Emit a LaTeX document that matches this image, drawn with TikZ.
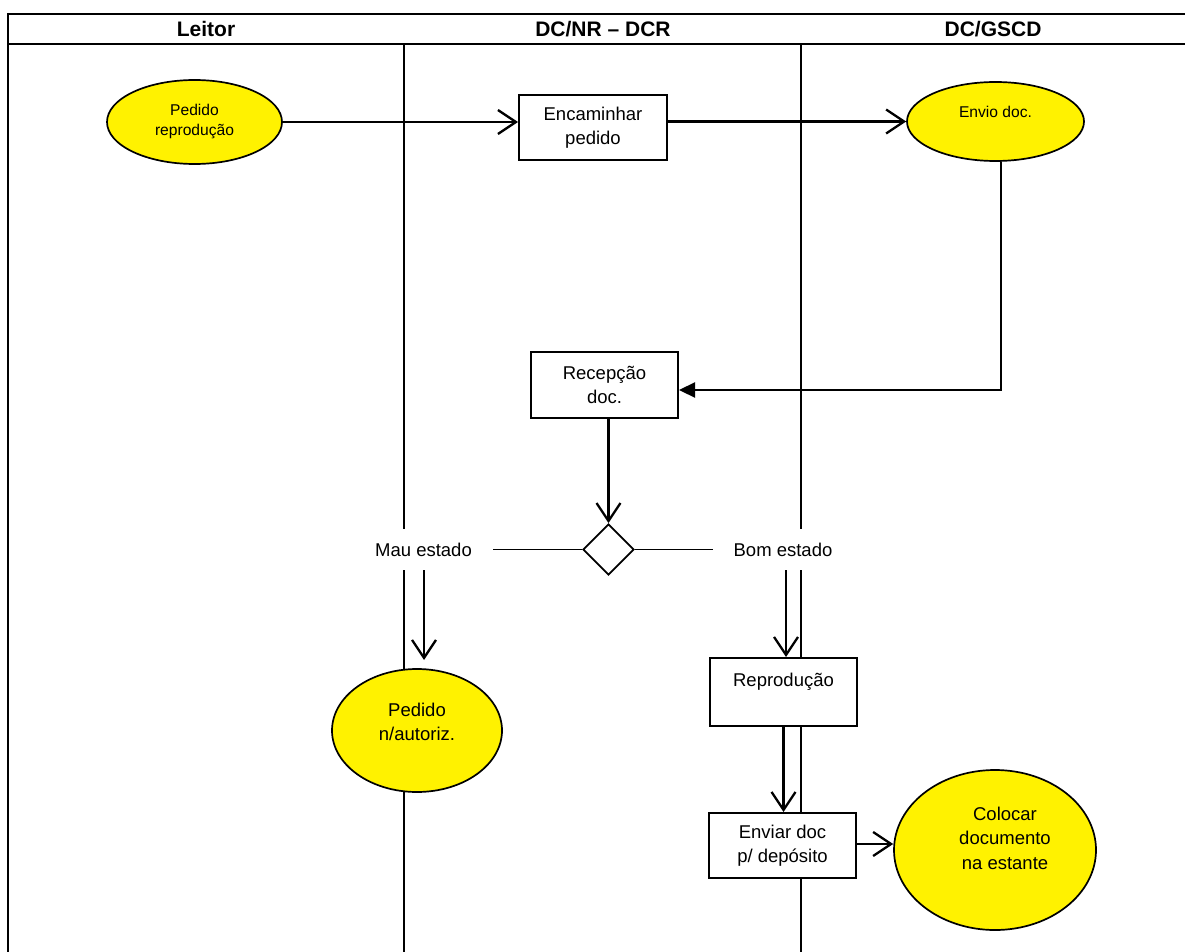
\documentclass[tikz,border=0pt]{standalone}
\usepackage{fontspec}
\setmainfont{Liberation Sans}
\usetikzlibrary{arrows.meta,shapes.geometric}
\begin{document}
\begin{tikzpicture}[x=1pt,y=-1pt,
  lane/.style={line width=2.3pt},
  conn/.style={line width=2.3pt,-{Straight Barb[length=18pt,width=24pt,line width=2.3pt]}},
  fillconn/.style={line width=2.3pt,-{Triangle[length=16pt,width=15pt]}},
  branch/.style={line width=1.8pt},
  hdr/.style={font=\fontsize{21}{25}\selectfont\bfseries},
  txt/.style={font=\fontsize{18.5}{24.5}\selectfont,align=center,inner sep=0pt},
  proc/.style={draw,line width=2pt,fill=white,rectangle,inner sep=0pt,
    font=\fontsize{18.5}{24.5}\selectfont,align=center},
  term/.style={draw,line width=1.7pt,fill=yellow,ellipse,inner sep=0pt,
    font=\fontsize{18.5}{24.5}\selectfont,align=center},
  smallterm/.style={term,font=\fontsize{15.6}{20}\selectfont},
  cond/.style={font=\fontsize{18.5}{24.5}\selectfont,fill=white,inner ysep=0pt,minimum height=41pt}
]
\useasboundingbox (0,0) rectangle (1185,952);

% swimlane frame and headers
\draw[lane] (8,14) -- (1185,14);
\draw[lane] (8,44) -- (1185,44);
\draw[lane] (8,13) -- (8,952);
\draw[lane] (404,44) -- (404,952);
\draw[lane] (801,44) -- (801,952);
\node[hdr] (hleitor) at (206,29) {Leitor};
\node[hdr] (hdcnr) at (603,29) {DC/NR – DCR};
\node[hdr] (hgscd) at (993,29) {DC/GSCD};

% activities
\node[smallterm,minimum width=175pt,minimum height=84pt] (pedrep) at (194.5,122) {Pedido\\reprodução};
\node[proc,minimum width=148pt,minimum height=65pt] (encam) at (593,127.5) {Encaminhar\\pedido};
\node[smallterm,minimum width=177pt,minimum height=79pt] (envio) at (995.5,121.5) {Envio doc.\\\mbox{}};
\node[proc,minimum width=147pt,minimum height=66pt] (recep) at (604.5,385) {Recepção\\doc.};
\node[draw,diamond,line width=1.8pt,fill=white,inner sep=0pt,minimum width=51pt,minimum height=51pt] (dec) at (608.5,549.5) {};
\node[cond,inner xsep=21pt] (mau) at (423.5,549.5) {Mau estado};
\node[cond,inner xsep=20pt] (bom) at (783,549.5) {Bom estado};
\node[term,minimum width=170pt,minimum height=123pt] (nauth) at (417,730.5) {};
\node[txt] (nauthtxt) at (417,722) {Pedido\\n/autoriz.};
\node[proc,minimum width=147pt,minimum height=68pt] (repro) at (783.5,692) {Reprodução\\\mbox{}};
\node[proc,minimum width=147pt,minimum height=65pt] (enviar) at (782.5,845.5) {Enviar doc\\p/ depósito};
\node[term,minimum width=202pt,minimum height=160pt] (coloc) at (995,850) {};
\node[txt] (coloctxt) at (1005,838) {Colocar\\documento\\na estante};
\coordinate (mauend) at (424,660);

% flow
\draw[conn] (pedrep.east) -- (pedrep.east -| encam.west);
\draw[conn] (encam.east |- envio.west) -- (envio.west);
\draw[fillconn] ([xshift=5.5pt]envio.south) |- ([yshift=-5pt]recep.east);
\draw[conn] (recep.south -| dec.north) -- (dec.north);
\draw[branch] (dec.west) -- (mau.east);
\draw[branch] (dec.east) -- (bom.west);
\draw[conn] (mau.south -| mauend) -- (mauend);
\draw[conn] ([xshift=3pt]bom.south) -- ([xshift=3pt]bom.south |- repro.north);
\draw[conn] (repro.south) -- (repro.south |- enviar.north);
\draw[conn] ([yshift=1.5pt]enviar.east) -- ([yshift=1.5pt]enviar.east -| coloc.west);
\end{tikzpicture}
\end{document}
